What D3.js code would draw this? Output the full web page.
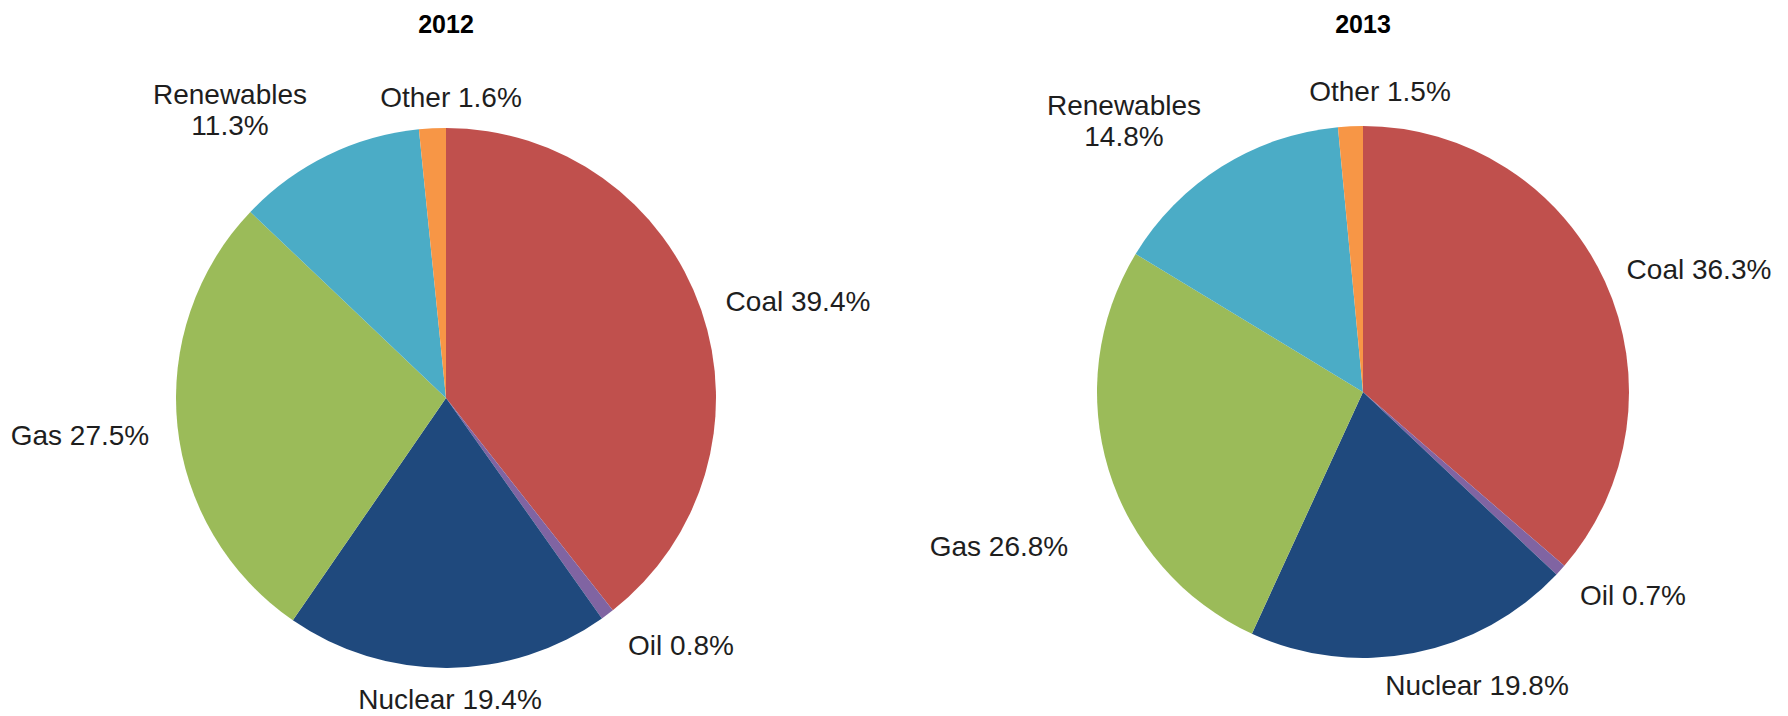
<!DOCTYPE html>
<html>
<head>
<meta charset="utf-8">
<script src="https://cdn.jsdelivr.net/npm/d3@7/dist/d3.min.js"></script>
<style>
  html, body { margin: 0; padding: 0; background: #ffffff; }
  svg { display: block; }
</style>
</head>
<body>
<svg id="chart" width="1788" height="716"></svg>
<script>
// ---- data ----
const categories = ["Coal", "Oil", "Nuclear", "Gas", "Renewables", "Other"];
const years = ["2012", "2013"];
const values2012 = [39.4, 0.8, 19.4, 27.5, 11.3, 1.6];
const values2013 = [36.3, 0.7, 19.8, 26.8, 14.8, 1.5];
const labels2012 = ["Coal 39.4%", "Oil 0.8%", "Nuclear 19.4%", "Gas 27.5%", ["Renewables", "11.3%"], "Other 1.6%"];
const labels2013 = ["Coal 36.3%", "Oil 0.7%", "Nuclear 19.8%", "Gas 26.8%", ["Renewables", "14.8%"], "Other 1.5%"];

// ---- styles / layout ----
const colors = ["#C0504D", "#8064A2", "#1F497D", "#9BBB59", "#4BACC6", "#F79646"];
const layouts = [
  { cx: 446, cy: 398, r: 270,
    // label anchor offsets from pie centre (text centre x, first baseline y)
    off: [[352, -87], [235, 257], [4, 311], [-366, 47], [-216, -294], [5, -291]] },
  { cx: 1363, cy: 392, r: 266,
    off: [[336, -113], [270, 213], [114, 303], [-364, 164], [-239, -277], [17, -291]] }
];
const series = [values2012, values2013];
const labelSets = [labels2012, labels2013];

const svg = d3.select("#chart");
const color = d3.scaleOrdinal().domain(categories).range(colors);
const pie = d3.pie().sort(null).value(d => d.v).startAngle(0).endAngle(2 * Math.PI);

series.forEach((vals, i) => {
  const L = layouts[i];
  const data = categories.map((c, j) => ({ c, v: vals[j], label: labelSets[i][j], off: L.off[j] }));
  const arc = d3.arc().innerRadius(0).outerRadius(L.r);
  const g = svg.append("g").attr("transform", `translate(${L.cx},${L.cy})`);

  g.selectAll("path.slice")
    .data(pie(data))
    .join("path")
    .attr("class", "slice")
    .attr("d", arc)
    .attr("fill", d => color(d.data.c));

  // labels
  const lab = g.selectAll("text.lab")
    .data(data)
    .join("text")
    .attr("class", "lab")
    .attr("text-anchor", "middle")
    .attr("font-family", "'Liberation Sans', Arial, sans-serif")
    .attr("font-size", 28)
    .attr("fill", "#1e1e1e")
    .attr("x", d => d.off[0])
    .attr("y", d => d.off[1]);
  lab.each(function(d) {
    const t = d3.select(this);
    const lines = Array.isArray(d.label) ? d.label : [d.label];
    lines.forEach((ln, k) => {
      t.append("tspan").attr("x", d.off[0]).attr("dy", k === 0 ? 0 : 31).text(ln);
    });
  });

  // title
  svg.append("text")
    .attr("x", L.cx)
    .attr("y", 33)
    .attr("text-anchor", "middle")
    .attr("font-family", "'Liberation Sans', Arial, sans-serif")
    .attr("font-weight", "bold")
    .attr("font-size", 25)
    .attr("fill", "#000")
    .text(years[i]);
});
</script>
</body>
</html>
